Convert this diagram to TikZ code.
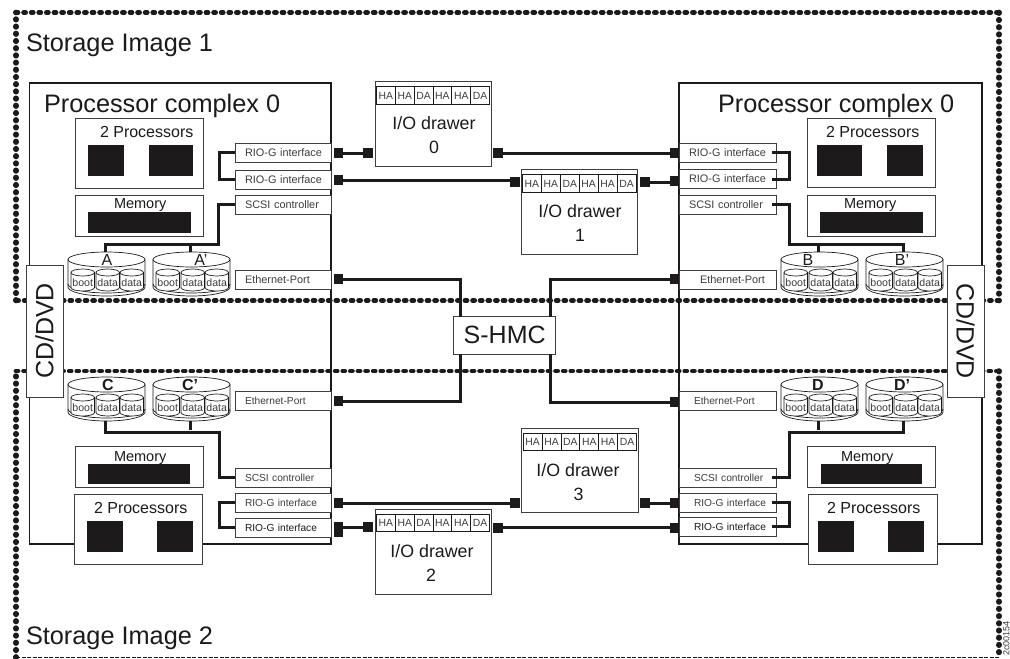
\documentclass[tikz,border=0pt]{standalone}
\usepackage{fontspec}
\setmainfont{Liberation Sans}
\definecolor{ink}{HTML}{1C1A1B}
\definecolor{soft}{HTML}{3F3D3E}
\newcommand{\fz}[1]{\fontsize{#1}{#1}\selectfont}
\tikzset{
  framedots/.style={line width=4.8pt,ink,line cap=round,dash pattern=on 2pt off 5.6pt},
  framedotsv/.style={line width=5.6pt,ink,line cap=round,dash pattern=on 0.6pt off 6.6pt},
  framedash/.style={line width=1.5pt,ink,dash pattern=on 4pt off 1.5pt},
  shell/.style={draw=ink,line width=1.4pt,rectangle,inner sep=0pt,outer sep=0pt},
  thinbox/.style={draw=soft,line width=1pt,fill=white,rectangle,inner sep=0pt,outer sep=0pt},
  chip/.style={fill=ink,rectangle,inner sep=0pt,outer sep=0pt},
  plug/.style={fill=ink,rectangle,inner sep=0pt,outer sep=0pt,minimum width=9.5pt,minimum height=10pt},
  cell/.style={draw=ink,line width=.9pt,fill=white,rectangle,inner sep=0pt,outer sep=0pt,text=soft,font=\fz{10.4}},
  wire/.style={ink,line width=3pt,line join=miter},
  txt/.style={inner sep=0pt,outer sep=0pt,text=ink,anchor=base west},
  big/.style={txt,font=\fz{25.3}},
  mid/.style={txt,font=\fz{16}},
  memo/.style={txt,font=\fz{14.5}},
  dlab/.style={inner sep=0pt,outer sep=0pt,text=ink,anchor=base,font=\fz{17.8}},
  dsklab/.style={inner sep=0pt,outer sep=0pt,text=ink,anchor=base,font=\fz{16}},
  cyl/.style={draw=ink,line width=.7pt,fill=white},
}
% name x1 y1 x2 y2 style
\newcommand{\bx}[6]{\node[#6,minimum width={(#4-#2)*1pt},minimum height={(#5-#3)*1pt}] (#1) at ({(#2+#4)/2},{(#3+#5)/2}) {};}
% port box: name x1 y1 x2 y2 pad size text
\newcommand{\port}[8]{\node[thinbox,text=soft,font=\fz{#7},align=left,text width={(#4-#2)*1pt},minimum height={(#5-#3)*1pt}] (#1) at ({(#2+#4)/2},{(#3+#5)/2}) {\hspace*{#6pt}#8};}
% small cylinder: x top label
\newcommand{\scyl}[4]{%
  \path[cyl] (#2,#3+3.5) arc[start angle=180,end angle=0,x radius=11.75pt,y radius=3.5pt]
     -- (#2+23.5,#3+18.5) arc[start angle=360,end angle=180,x radius=11.75pt,y radius=3.5pt] -- cycle;
  \draw[cyl,fill=none] (#2,#3+3.5) arc[start angle=180,end angle=360,x radius=11.75pt,y radius=3.5pt];
  \node[inner sep=0pt,text=soft,font=\fz{10.6},anchor=base] (#1) at (#2+11.75,#3+17) {#4};}
% disk: name x ytop labeloffset label labelstyle
\newcommand{\dsk}[6]{%
  \path[cyl] (#2,#3+7.5) arc[start angle=180,end angle=0,x radius=38.5pt,y radius=7.5pt]
     -- (#2+77,#3+35) arc[start angle=360,end angle=180,x radius=38.5pt,y radius=9pt] -- cycle;
  \draw[cyl,fill=none] (#2,#3+7.5) arc[start angle=180,end angle=360,x radius=38.5pt,y radius=7.5pt];
  \draw[cyl,fill=none] (#2,#3+32) arc[start angle=180,end angle=360,x radius=38.5pt,y radius=9pt];
  \coordinate (#1t) at (#2+37,#3);
  \coordinate (#1b) at (#2+37,#3+44);
  \scyl{#1x}{#2+3}{#3+17}{boot}
  \scyl{#1y}{#2+28}{#3+17}{data}
  \scyl{#1z}{#2+52}{#3+17}{data}
  \node[dsklab,#6] (#1l) at (#2+#4,#3+13) {#5};}
% drawer: name x1 y1 x2 y2 cellinset celltop labelx
\newcommand{\drawer}[9]{%
  \bx{#1}{#2}{#3}{#4}{#5}{thinbox}
  \foreach \i/\t in {0/HA,1/HA,2/DA,3/HA,4/HA,5/DA}{
    \pgfmathsetmacro{\cw}{(#4-#2-3)/6}
    \pgfmathsetmacro{\cx}{#2+1.5+\cw*(\i+.5)}
    \node[cell,minimum width=\cw pt,minimum height=17.5pt] (#1c\i) at (\cx,#3+#6) {\t};
  }
  \node[dlab] (#1a) at (#7,#3+48) {I/O drawer};
  \node[dlab] (#1b) at (#8,#3+72) {#9};}
\begin{document}
\begin{tikzpicture}[x=1pt,y=-1pt]
\path[use as bounding box,fill=white] (0,0) rectangle (1010,659);
% storage image frames
\coordinate (fa) at (16,12.5);
\coordinate (fb) at (999,12.5);
\coordinate (fc) at (999,300.5);
\coordinate (fd) at (16,300.5);
\coordinate (ge) at (16,371);
\coordinate (gf) at (999,371);
\coordinate (gg) at (999,657.5);
\coordinate (gh) at (16,657.5);
\draw[framedots] (fa) -- (fb);
\draw[framedotsv] (fb) -- (fc);
\draw[framedots] (fc) -- (fd);
\draw[framedotsv] (fd) -- (fa);
\draw[framedotsv] (gh) -- (ge);
\draw[framedots] (ge) -- (gf);
\draw[framedotsv] (gf) -- (gg);
\draw[framedash] (gh) -- (gg);
% processor complexes
\bx{pcL}{29.5}{83}{331}{544}{shell}
\bx{pcR}{679}{83}{982}{544}{shell}
\draw[ink,line width=2.2pt] (pcL.north east) -- (pcL.south east);
\draw[ink,line width=2.2pt] (pcR.north west) -- (pcR.south west);
% CD/DVD
\node[thinbox,minimum width=37pt,minimum height=132pt] (cdL) at (44.5,331) {};
\node[thinbox,minimum width=37pt,minimum height=132pt] (cdR) at (965.5,331) {};
\node[inner sep=0pt,text=ink,font=\fz{25},rotate=90] (cdLt) at (cdL) {CD/DVD};
\node[inner sep=0pt,text=ink,font=\fz{25},rotate=-90] (cdRt) at (cdR) {CD/DVD};
% titles
\node[big] (si1) at (26,51) {Storage Image 1};
\node[big] (si2) at (26,644) {Storage Image 2};
\node[big] (pt1) at (44,112) {Processor complex 0};
\node[big] (pt2) at (718,112) {Processor complex 0};
% processors and memory - top left
\bx{p1}{75.5}{118}{203.5}{188}{thinbox}
\node[mid] (p1t) at (100,137) {2 Processors};
\bx{p1a}{88}{145}{124}{176}{chip}
\bx{p1b}{149}{145}{193}{176}{chip}
\bx{m1}{75.5}{195}{203.5}{236}{thinbox}
\node[memo] (m1t) at (114,208) {Memory};
\bx{m1a}{87.5}{212}{191}{233}{chip}
% top right
\bx{p2}{807}{118}{935}{187.5}{thinbox}
\node[mid] (p2t) at (826,137) {2 Processors};
\bx{p2a}{817}{145}{862}{176}{chip}
\bx{p2b}{887}{145}{923}{176}{chip}
\bx{m2}{807}{195}{935}{236}{thinbox}
\node[memo] (m2t) at (844,208) {Memory};
\bx{m2a}{820}{212}{923}{233}{chip}
% bottom left
\bx{m3}{75.5}{446}{203.5}{487}{thinbox}
\node[memo] (m3t) at (114,461) {Memory};
\bx{m3a}{88}{464}{189.5}{484}{chip}
\bx{p3}{74}{494}{202.5}{564}{thinbox}
\node[mid] (p3t) at (94,513) {2 Processors};
\bx{p3a}{87}{521}{123}{552}{chip}
\bx{p3b}{157}{521}{192.5}{552}{chip}
% bottom right
\bx{m4}{807}{446}{935}{487}{thinbox}
\node[memo] (m4t) at (841,461) {Memory};
\bx{m4a}{821}{464}{922}{484}{chip}
\bx{p4}{808}{494}{937}{564}{thinbox}
\node[mid] (p4t) at (827,513) {2 Processors};
\bx{p4a}{818}{521}{854}{552}{chip}
\bx{p4b}{888}{521}{924}{552}{chip}
% ports
\port{r1}{235}{143.5}{331}{162}{10}{10.9}{RIO-G interface}
\port{r2}{235}{170}{331}{189}{10}{10.9}{RIO-G interface}
\port{s1}{235}{195}{331}{214}{10}{10.9}{SCSI controller}
\port{e1}{235}{270}{331}{289}{10}{10.9}{Ethernet-Port}
\port{r3}{679}{143.5}{776}{162}{10}{10.9}{RIO-G interface}
\port{r4}{679}{169.5}{776}{188.5}{10}{10.9}{RIO-G interface}
\port{s2}{679}{195}{776}{214}{10}{10.9}{SCSI controller}
\port{e2}{679}{270}{776}{289}{21}{10.9}{Ethernet-Port}
\port{e3}{235}{391}{331}{410}{10}{10.2}{Ethernet-Port}
\port{s3}{235}{468}{331}{487}{10}{10.2}{SCSI controller}
\port{r5}{235}{493}{331}{512}{10}{10.2}{RIO-G interface}
\port{r6}{235}{518}{331}{537}{10}{10.2}{\textcolor{ink}{RIO-G interface}}
\port{e4}{679}{391}{776}{410}{15}{10.2}{Ethernet-Port}
\port{s4}{679}{468}{776}{487}{15}{10.2}{SCSI controller}
\port{r7}{679}{493}{776}{512}{15}{10.2}{RIO-G interface}
\port{r8}{679}{517}{776}{536}{15}{10.2}{\textcolor{ink}{RIO-G interface}}
% disks
\dsk{dA}{68}{252}{39}{A}{}
\dsk{dAp}{153}{252}{48}{A'}{}
\dsk{dB}{781}{252}{27}{B}{}
\dsk{dBp}{866}{252}{36}{B'}{}
\dsk{dC}{68}{377}{40}{C}{font=\fz{16}\bfseries}
\dsk{dCp}{153}{377}{37}{C'}{font=\fz{16}\bfseries}
\dsk{dD}{781}{377}{37}{D}{font=\fz{16}\bfseries}
\dsk{dDp}{866}{377}{36}{D'}{font=\fz{16}\bfseries}
% drawers
\drawer{d0}{375}{81}{491}{166}{14.5}{434}{434}{0}
\drawer{d1}{521}{169}{637.5}{254}{14.5}{580}{580}{1}
\drawer{d3}{521.7}{428}{638}{512}{14}{578}{578.5}{3}
\drawer{d2}{375}{509}{491}{594}{14}{432}{431}{2}
% S-HMC
\node[thinbox,font=\fz{25},text=ink,minimum width=102pt,minimum height=37.5pt] (hmc) at (504.7,335.3) {S-HMC};
% plugs
\node[plug] (a1) at (338.5,153) {};
\node[plug] (a2) at (368,153) {};
\node[plug] (a3) at (498,153) {};
\node[plug] (a4) at (674.5,153) {};
\node[plug] (b1) at (338.5,180) {};
\node[plug] (b2) at (515,181.5) {};
\node[plug] (b3) at (645,182) {};
\node[plug] (b4) at (674.5,181) {};
\node[plug] (c1) at (338.5,279) {};
\node[plug] (c4) at (674.5,279) {};
\node[plug] (f1) at (338.5,401) {};
\node[plug] (f4) at (674.5,402) {};
\node[plug] (g1) at (338.5,503) {};
\node[plug] (g2) at (515,503) {};
\node[plug] (g3) at (645,503) {};
\node[plug] (g4) at (674.5,503) {};
\node[plug,minimum height=15pt] (h1) at (338.5,529.5) {};
\node[plug] (h2) at (368,527) {};
\node[plug] (h3) at (498,527.5) {};
\node[plug] (h4) at (674.5,528) {};
% links
\draw[wire] (a1.center) -- (a2.center);
\draw[wire] (a3.center) -- (a4.center);
\draw[wire] (b1.center) -- (b1.center -| b2.west);
\draw[wire] (b3.center) -- (b3.center -| b4.west);
\draw[wire] (g1.center) -- (g1.center -| g2.west);
\draw[wire] (g3.center) -- (g4.center);
\draw[wire] (h2.center -| h1.east) -- (h2.center);
\draw[wire] (h3.center) -- (h3.center -| h4.west);
% Ethernet to S-HMC
\coordinate (ht1) at ([xshift=7pt]hmc.north west);
\coordinate (ht2) at ([xshift=-5.5pt]hmc.north east);
\coordinate (hb1) at ([xshift=7pt]hmc.south west);
\coordinate (hb2) at ([xshift=-5.5pt]hmc.south east);
\draw[wire] (c1.center) -| (ht1);
\draw[wire] (c4.center) -| (ht2);
\draw[wire] (f1.center) -| (hb1);
\draw[wire] (f4.center) -| (hb2);
% RIO loops
\draw[wire] (r1.west) -- ++(-16,0) |- (r2.west);
\draw[wire] (r5.west) -- ++(-16,0) |- (r6.west);
\draw[wire] ([xshift=-4pt]r3.east) -- ++(17,0) |- ([xshift=-4pt]r4.east);
\draw[wire] ([xshift=-4pt]r7.east) -- ++(17,0) |- ([xshift=-4pt]r8.east);
% SCSI to disks
\draw[wire] (s1.west) -- ++(-17,0) -- ++(0,39.5) -| (dAt);
\draw[wire] (dApt) -- ++(0,-7.5);
\draw[wire] ([xshift=-4pt]s2.east) -- ++(17,0) -- ++(0,39.5) -| (dBpt);
\draw[wire] (dBt) -- ++(0,-7.5);
\draw[wire] (s3.west) -- ++(-16,0) -- ++(0,-45.5) -| (dCb);
\draw[wire] (dCpb) -- ++(0,9);
\draw[wire] ([xshift=-4pt]s4.east) -- ++(17,0) -- ++(0,-45.5) -| (dDpb);
\draw[wire] (dDb) -- ++(0,9);
% figure id
\node[inner sep=0pt,text=soft,font=\fz{9},rotate=90,anchor=base west] (figid) at (1009.3,656) {2c00154};
\end{tikzpicture}
\end{document}
